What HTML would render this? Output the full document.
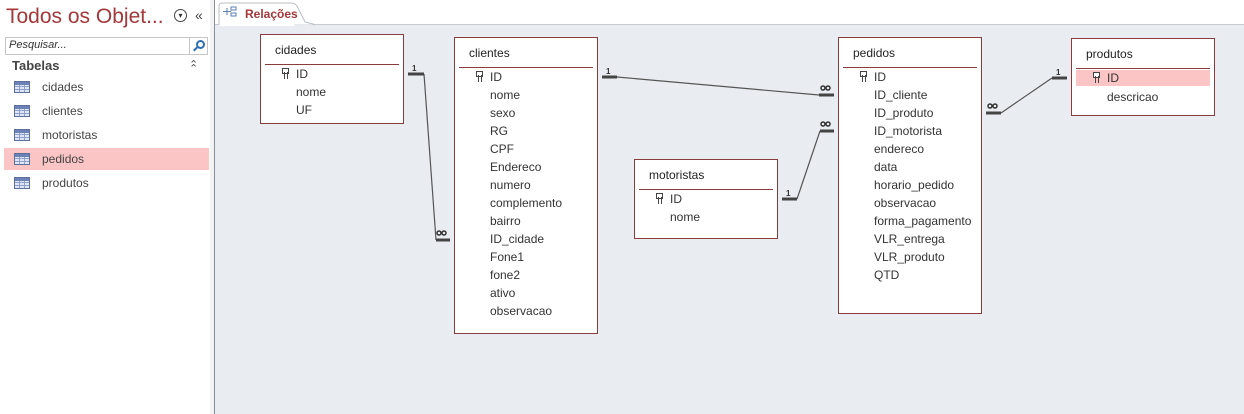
<!DOCTYPE html>
<html><head><meta charset="utf-8">
<style>
*{margin:0;padding:0;box-sizing:border-box}
body{width:1244px;height:414px;overflow:hidden;background:#fff;font-family:"Liberation Sans",sans-serif;font-size:12px;color:#333;position:relative}
.a{position:absolute;white-space:nowrap}
#left{left:0;top:0;width:210px;height:414px;background:#fff}
#strip{left:210px;top:0;width:4px;height:414px;background:#f3f3f3}
#vline{left:214px;top:0;width:1px;height:414px;background:#8a9099}
#canvas{left:215px;top:25px;width:1029px;height:389px;background:#e9edf1}
#tabline{left:215px;top:24px;width:1029px;height:1px;background:#c8ccd2}
.box{position:absolute;background:#fff;border:1px solid #8a3b3c}
.box .h{position:absolute;left:14px;top:8px;font-size:12px;color:#222}
.box .ln{position:absolute;left:4px;right:4px;height:1px;background:#8a3b3c}
.box .r{position:absolute;left:35px;font-size:12px;color:#333}
.key{position:absolute;left:21px;width:5px;height:11px}
.key::before{content:"";position:absolute;left:0;top:0;width:5px;height:4px;border:1px solid #444;background:#fff}
.key::after{content:"";position:absolute;left:2px;top:4px;width:2px;height:7px;border-left:1px solid #444;border-right:1px solid #444}
.item{position:absolute;left:0;width:208px;height:22px}
.item span{position:absolute;left:42px;top:4px;font-size:12px;color:#444}
.ti{position:absolute;left:14px;top:5px;width:16px;height:12px;border:1px solid #5b6e9c;background:
linear-gradient(#6d83b8 0 3px,transparent 3px),
repeating-linear-gradient(90deg,transparent 0 4px,#8fa1c8 4px 5px),
repeating-linear-gradient(0deg,#dfe6f5 0 2px,#8fa1c8 2px 3px)}
</style></head><body>
<div id="left" class="a"></div>
<div id="strip" class="a"></div>
<div id="vline" class="a"></div>
<div id="canvas" class="a"></div>
<div id="tabline" class="a"></div>

<div class="a" style="left:6px;top:5px;font-size:21px;color:#a4373a">Todos os Objet...</div>
<div class="a" style="left:174px;top:9px;width:13px;height:13px;border:1px solid #444;border-radius:50%;font-size:8px;line-height:11px;text-align:center">▾</div>
<div class="a" style="left:195px;top:7px;font-size:14px;color:#444">«</div>
<div class="a" style="left:5px;top:37px;width:203px;height:18px;border:1px solid #c6c6c6"></div>
<div class="a" style="left:9px;top:39px;font-size:11px;font-style:italic;color:#333">Pesquisar...</div>
<div class="a" style="left:189px;top:38px;width:1px;height:16px;background:#c6c6c6"></div>
<div class="a" style="left:196px;top:40px;width:9px;height:9px;border:2px solid #2d6fb3;border-radius:50%"></div>
<div class="a" style="left:193px;top:48px;width:5px;height:2px;background:#2d6fb3;transform:rotate(-45deg)"></div>
<div class="a" style="left:12px;top:58px;font-size:13px;font-weight:bold;color:#444">Tabelas</div>
<div class="a" style="left:189px;top:58px;font-size:11px;color:#555">⌃</div>
<div class="a" style="left:189px;top:62px;font-size:11px;color:#555">⌃</div>

<div class="item a" style="top:76px"><i class="ti"></i><span>cidades</span></div>
<div class="item a" style="top:100px"><i class="ti"></i><span>clientes</span></div>
<div class="item a" style="top:124px"><i class="ti"></i><span>motoristas</span></div>
<div class="item a" style="top:148px;left:4px;width:205px;background:#fbc5c5"></div>
<div class="item a" style="top:148px"><i class="ti"></i><span>pedidos</span></div>
<div class="item a" style="top:172px"><i class="ti"></i><span>produtos</span></div>

<svg class="a" style="left:215px;top:0" width="100" height="26">
<path d="M4 25 L4 6 Q4 3 8 3 L76 3 Q80 3 82 6 L90 22 L100 24.5" fill="#fff" stroke="#b8bcc2"/>
<rect x="5" y="4" width="74" height="22" fill="#fff"/>
<g stroke="#5b7fb0" fill="none"><rect x="16" y="7" width="5" height="3"/><rect x="16" y="13" width="5" height="3"/><path d="M8 11.5h8M12 8v7"/></g>
</svg>
<div class="a" style="left:245px;top:7px;font-size:12px;font-weight:bold;color:#a4373a">Relações</div>

<svg class="a" style="left:0;top:0" width="1244" height="414">
<g stroke="#555" stroke-width="1.2" fill="none">
<path d="M424 74 L436 240"/><path d="M617 77 L819 95"/><path d="M797 199 L820 131"/><path d="M1001 113 L1052 78"/>
</g>
<g stroke="#444" stroke-width="3">
<path d="M408 74h16"/><path d="M436 240h14"/><path d="M602 77h15"/><path d="M819 95h15"/>
<path d="M782 199h15"/><path d="M820 131h14"/><path d="M986 113h15"/><path d="M1052 78h15"/>
</g>
<g font-family="Liberation Sans" font-size="8" font-weight="bold" fill="#333">
<text x="412" y="71">1</text><text x="606" y="74">1</text><text x="786" y="196">1</text><text x="1056" y="75">1</text>
</g>
<g fill="none" stroke="#333" stroke-width="1.5">
<circle cx="439" cy="233" r="2"/><circle cx="444" cy="233" r="2"/>
<circle cx="823" cy="88" r="2"/><circle cx="828" cy="88" r="2"/>
<circle cx="823" cy="124" r="2"/><circle cx="828" cy="124" r="2"/>
<circle cx="990" cy="106" r="2"/><circle cx="995" cy="106" r="2"/>
</g>
</svg>

<div class="box" style="left:260px;top:34px;width:144px;height:90px">
<div class="h">cidades</div><div class="ln" style="top:29px"></div>
<div class="key" style="top:33px"></div>
<div class="r" style="top:32px">ID</div><div class="r" style="top:50px">nome</div><div class="r" style="top:68px">UF</div>
</div>
<div class="box" style="left:454px;top:37px;width:144px;height:297px">
<div class="h">clientes</div><div class="ln" style="top:29px"></div>
<div class="key" style="top:33px"></div>
<div class="r" style="top:32px">ID</div><div class="r" style="top:50px">nome</div><div class="r" style="top:68px">sexo</div><div class="r" style="top:86px">RG</div><div class="r" style="top:104px">CPF</div><div class="r" style="top:122px">Endereco</div><div class="r" style="top:140px">numero</div><div class="r" style="top:158px">complemento</div><div class="r" style="top:176px">bairro</div><div class="r" style="top:194px">ID_cidade</div><div class="r" style="top:212px">Fone1</div><div class="r" style="top:230px">fone2</div><div class="r" style="top:248px">ativo</div><div class="r" style="top:266px">observacao</div>
</div>
<div class="box" style="left:634px;top:159px;width:144px;height:80px">
<div class="h">motoristas</div><div class="ln" style="top:29px"></div>
<div class="key" style="top:33px"></div>
<div class="r" style="top:32px">ID</div><div class="r" style="top:50px">nome</div>
</div>
<div class="box" style="left:838px;top:37px;width:144px;height:277px">
<div class="h">pedidos</div><div class="ln" style="top:29px"></div>
<div class="key" style="top:33px"></div>
<div class="r" style="top:32px">ID</div><div class="r" style="top:50px">ID_cliente</div><div class="r" style="top:68px">ID_produto</div><div class="r" style="top:86px">ID_motorista</div><div class="r" style="top:104px">endereco</div><div class="r" style="top:122px">data</div><div class="r" style="top:140px">horario_pedido</div><div class="r" style="top:158px">observacao</div><div class="r" style="top:176px">forma_pagamento</div><div class="r" style="top:194px">VLR_entrega</div><div class="r" style="top:212px">VLR_produto</div><div class="r" style="top:230px">QTD</div>
</div>
<div class="box" style="left:1071px;top:38px;width:144px;height:78px">
<div class="h">produtos</div><div class="ln" style="top:29px"></div>
<div style="position:absolute;left:4px;top:31px;width:134px;height:16px;background:#fbc5c5"></div>
<div class="key" style="top:33px"></div>
<div class="r" style="top:32px">ID</div><div class="r" style="top:51px">descricao</div>
</div>
</body></html>
